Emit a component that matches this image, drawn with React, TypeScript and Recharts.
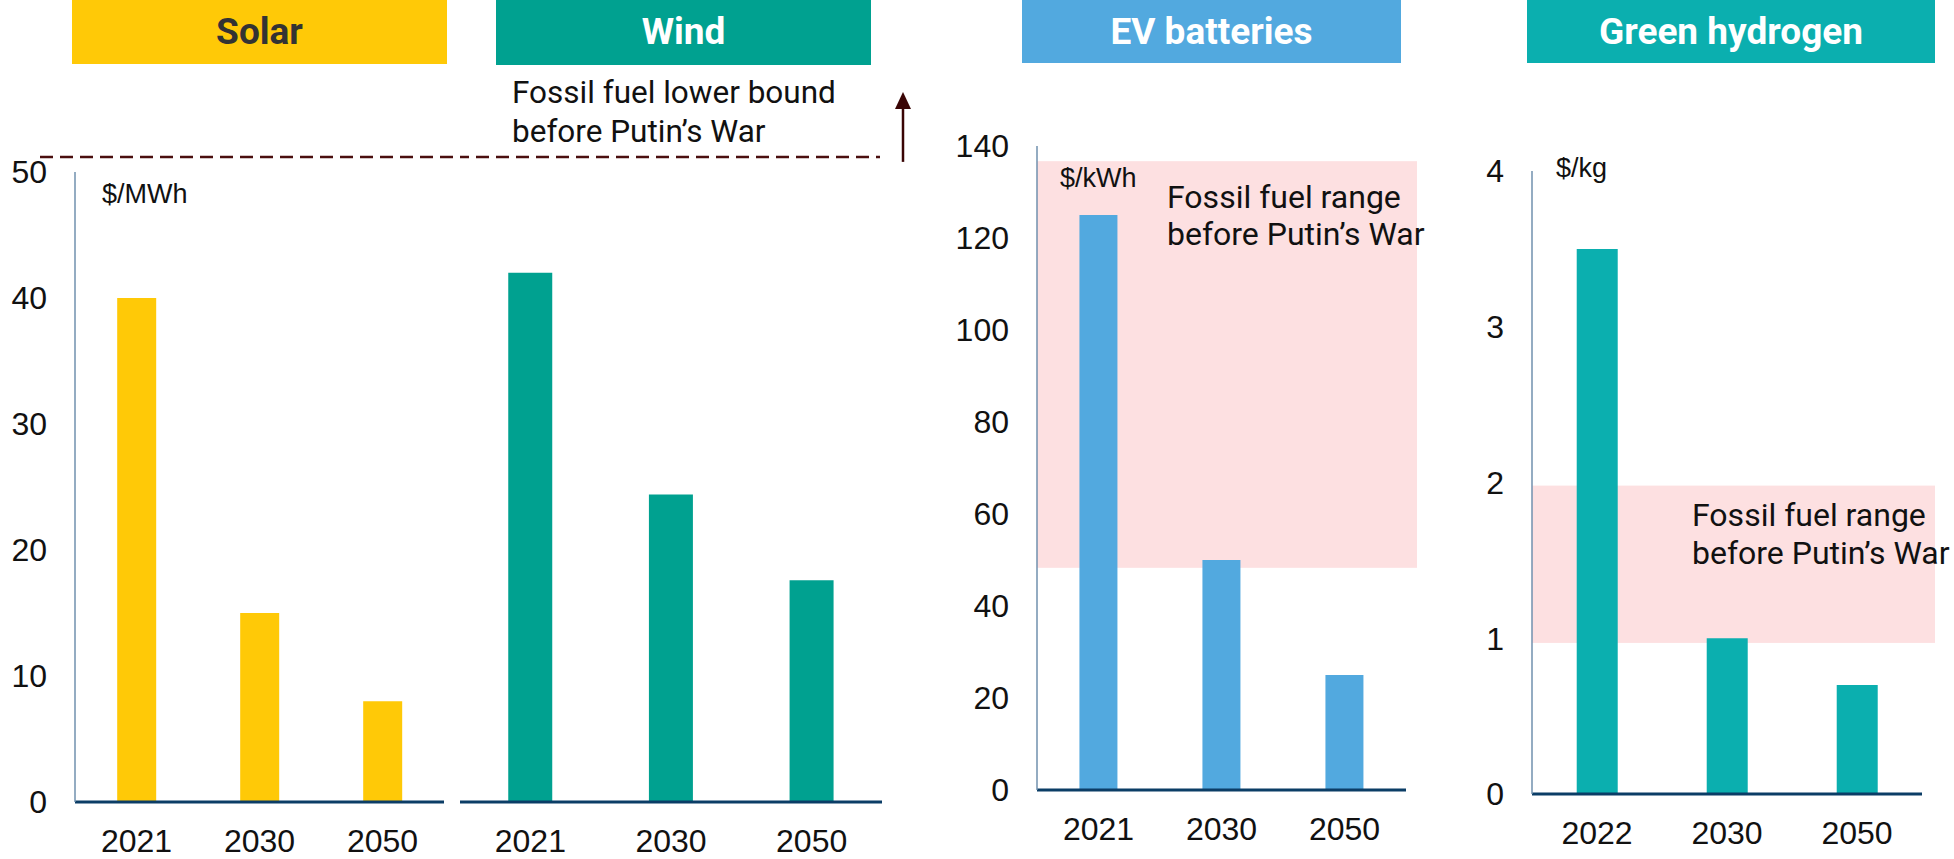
import React from 'react';
import { BarChart, Bar, XAxis, YAxis, ReferenceLine, ReferenceArea } from 'recharts';

// ---------- data ----------
const solarYears = ['2021', '2030', '2050'];
const solarValues = [40, 15, 8];
const windYears = ['2021', '2030', '2050'];
const windValues = [42, 24.4, 17.6];
const evYears = ['2021', '2030', '2050'];
const evValues = [125, 50, 25];
const h2Years = ['2022', '2030', '2050'];
const h2Values = [3.5, 1.0, 0.7];

const powerTicks = [0, 10, 20, 30, 40, 50];
const evTicks = [0, 20, 40, 60, 80, 100, 120, 140];
const h2Ticks = [0, 1, 2, 3, 4];

const powerFossilLowerBound = 51.2;
const evFossilRange = [48.3, 136.7];
const h2FossilRange = [0.97, 1.98];

const headers = ['Solar', 'Wind', 'EV batteries', 'Green hydrogen'];
const units = ['$/MWh', '$/kWh', '$/kg'];
const lowerBoundText = ['Fossil fuel lower bound', 'before Putin\u2019s War'];
const rangeText = ['Fossil fuel range', 'before Putin\u2019s War'];

// ---------- styles ----------
const TICK_FONT = "'Liberation Sans', Arial, sans-serif";
const ROBOTO = 'Roboto, sans-serif';
const NAVY = '#0B3D66';
const YAXIS = '#7191AE';
const MAROON = '#4A0E0E';
const PINK = '#FDE0E1';
const tickStyle = { fontFamily: TICK_FONT, fontSize: 32, fill: '#111111' };

const rows = (cats: string[], vals: number[]) => cats.map((c, i) => ({ year: c, value: vals[i] }));

const solarData = rows(solarYears, solarValues);
const windData = rows(windYears, windValues);
const evData = rows(evYears, evValues);
const h2Data = rows(h2Years, h2Values);

const xAxisProps = {
  dataKey: 'year',
  tickLine: false,
  tickSize: 0,
  tickMargin: 27,
  interval: 0 as const,
  axisLine: { stroke: NAVY, strokeWidth: 3 },
  tick: tickStyle,
};

const yAxisProps = {
  tickLine: false,
  tickSize: 0,
  tickMargin: 28,
  axisLine: { stroke: YAXIS, strokeWidth: 1.5 },
  tick: tickStyle,
  allowDataOverflow: true,
};

const solarLineShape = (p: any) => {
  const xl = Math.min(p.x1, p.x2);
  const xr = Math.max(p.x1, p.x2);
  return (
    <line x1={xl - 35} x2={xr + 16} y1={p.y1} y2={p.y1} stroke={MAROON} strokeWidth={2.5} strokeDasharray="13 7" />
  );
};

const windLineShape = (p: any) => {
  const xl = Math.min(p.x1, p.x2);
  const xr = Math.max(p.x1, p.x2);
  const y = p.y1;
  const ax = xr + 21;
  return (
    <g>
      <line x1={xl} x2={xr - 2} y1={y} y2={y} stroke={MAROON} strokeWidth={2.5} strokeDasharray="13 7" strokeDashoffset={4} />
      <line x1={ax} x2={ax} y1={y + 5} y2={y - 50} stroke="#3A0505" strokeWidth={2.5} />
      <polygon points={`${ax - 8},${y - 48} ${ax + 8},${y - 48} ${ax},${y - 65}`} fill="#3A0505" />
      <text x={xl + 52} y={y - 54} fontFamily={ROBOTO} fontSize={31.5} fill="#111111">{lowerBoundText[0]}</text>
      <text x={xl + 52} y={y - 15} fontFamily={ROBOTO} fontSize={31.5} fill="#111111">{lowerBoundText[1]}</text>
    </g>
  );
};

const rangeShape = (extra: number, tx: number, ty1: number, ty2: number) => (p: any) => (
  <g>
    <rect x={p.x} y={p.y} width={p.width + extra} height={p.height} fill={PINK} />
    <text x={p.x + tx} y={p.y + ty1} fontFamily={ROBOTO} fontSize={32} fill="#111111">{rangeText[0]}</text>
    <text x={p.x + tx} y={p.y + ty2} fontFamily={ROBOTO} fontSize={32} fill="#111111">{rangeText[1]}</text>
  </g>
);

const headerBoxes = [
  { x: 72, w: 375, h: 64, fill: '#FFC907', color: '#333333' },
  { x: 496, w: 375, h: 65, fill: '#00A190', color: '#FFFFFF' },
  { x: 1022, w: 379, h: 63, fill: '#52A9DF', color: '#FFFFFF' },
  { x: 1527, w: 408, h: 63, fill: '#0BAFAF', color: '#FFFFFF' },
];

export default function App() {
  return (
    <div style={{ position: 'absolute', left: 0, top: 0, width: 1954, height: 859, background: '#FFFFFF', overflow: 'hidden' }}>
      {/* Solar */}
      <div style={{ position: 'absolute', left: 0, top: 0 }}>
        <BarChart width={460} height={859} data={solarData} margin={{ top: 172, right: 16, bottom: 0, left: 0 }} barCategoryGap="34.3%">
          <XAxis {...xAxisProps} height={57} />
          <YAxis {...yAxisProps} width={75} domain={[0, 50]} ticks={powerTicks} />
          <ReferenceLine y={powerFossilLowerBound} ifOverflow="visible" shape={solarLineShape} />
          <Bar dataKey="value" fill="#FFC907" isAnimationActive={false} />
        </BarChart>
      </div>
      {/* Wind */}
      <div style={{ position: 'absolute', left: 460, top: 0 }}>
        <BarChart width={460} height={859} data={windData} margin={{ top: 172, right: 38, bottom: 0, left: 0 }} barCategoryGap="34.3%">
          <XAxis {...xAxisProps} height={57} />
          <YAxis hide domain={[0, 50]} ticks={powerTicks} allowDataOverflow />
          <ReferenceLine y={powerFossilLowerBound} ifOverflow="visible" shape={windLineShape} />
          <Bar dataKey="value" fill="#00A190" isAnimationActive={false} />
        </BarChart>
      </div>
      {/* EV batteries */}
      <div style={{ position: 'absolute', left: 957, top: 0 }}>
        <BarChart width={490} height={859} data={evData} margin={{ top: 146, right: 41, bottom: 0, left: 0 }} barCategoryGap="34.5%">
          <XAxis {...xAxisProps} height={69} />
          <YAxis {...yAxisProps} width={80} domain={[0, 140]} ticks={evTicks} />
          <ReferenceArea y1={evFossilRange[0]} y2={evFossilRange[1]} ifOverflow="visible" shape={rangeShape(11, 130, 47, 84)} />
          <Bar dataKey="value" fill="#52A9DF" isAnimationActive={false} />
        </BarChart>
      </div>
      {/* Green hydrogen */}
      <div style={{ position: 'absolute', left: 1452, top: 0 }}>
        <BarChart width={502} height={859} data={h2Data} margin={{ top: 171, right: 32, bottom: 0, left: 0 }} barCategoryGap="34.4%">
          <XAxis {...xAxisProps} height={65} />
          <YAxis {...yAxisProps} width={80} domain={[0, 4]} ticks={h2Ticks} />
          <ReferenceArea y1={h2FossilRange[0]} y2={h2FossilRange[1]} ifOverflow="visible" shape={rangeShape(13, 160, 40, 78)} />
          <Bar dataKey="value" fill="#0BAFAF" isAnimationActive={false} />
        </BarChart>
      </div>
      {/* headers and unit labels */}
      <svg width={1954} height={859} style={{ position: 'absolute', left: 0, top: 0, pointerEvents: 'none' }}>
        {headerBoxes.map((b, i) => (
          <g key={i}>
            <rect x={b.x} y={0} width={b.w} height={b.h} fill={b.fill} />
            <text x={b.x + b.w / 2} y={44} textAnchor="middle" fontFamily={ROBOTO} fontWeight={700} fontSize={37} fill={b.color}>
              {headers[i]}
            </text>
          </g>
        ))}
        <text x={102} y={203} fontFamily={TICK_FONT} fontSize={27} fill="#111111">{units[0]}</text>
        <text x={1060} y={187} fontFamily={TICK_FONT} fontSize={27} fill="#111111">{units[1]}</text>
        <text x={1556} y={177} fontFamily={TICK_FONT} fontSize={27} fill="#111111">{units[2]}</text>
      </svg>
    </div>
  );
}
